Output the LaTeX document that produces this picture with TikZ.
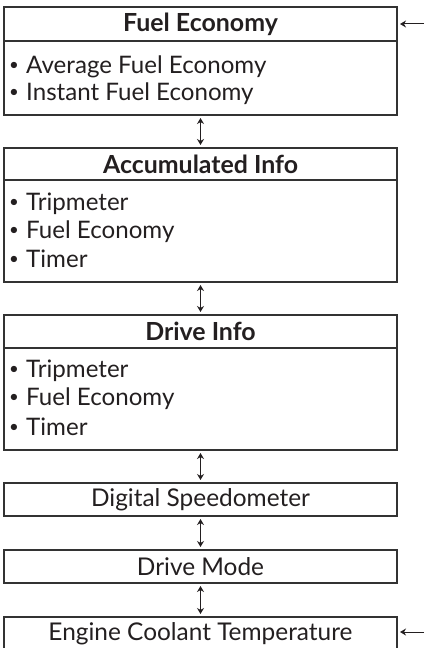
\documentclass[tikz,border=0pt]{standalone}
\usepackage{fontspec}
\setmainfont{Lato}
\usetikzlibrary{arrows.meta}
\definecolor{ink}{HTML}{231F20}
\definecolor{rule}{HTML}{333333}
\newcommand\bul{\raisebox{0.14em}{\scalebox{0.7}{•}}\hspace{0.3em}}
\begin{document}
\begin{tikzpicture}[x=1bp,y=-1bp,
  box/.style={draw=rule,line width=1.1bp,minimum width=393bp,inner sep=0pt,outer sep=0pt},
  head/.style={box,font=\fontsize{25}{28}\selectfont\bfseries,text=ink},
  plain/.style={box,font=\fontsize{24.5}{28}\selectfont,text=ink},
  item/.style={anchor=west,inner sep=0pt,font=\fontsize{24.2}{28}\selectfont,text=ink},
  link/.style={{Stealth[length=6bp,width=7bp]}-{Stealth[length=6bp,width=7bp]},line width=1bp,draw=ink,shorten <=3bp,shorten >=3bp},
  side/.style={-{Stealth[length=6bp,width=7bp]},line width=1bp,draw=ink,shorten >=3bp}]
\useasboundingbox (0,0) rectangle (424,648);
\clip (0,0) rectangle (424,648);
% Box 1
\node[head,minimum height=34bp] (h1) at (200.5,24) {Fuel Economy};
\node[box,minimum height=74bp] (b1) at (200.5,78) {};
\node[item] (i11) at (9,67) {\bul Average Fuel Economy};
\node[item] (i12) at (9,94) {\bul Instant Fuel Economy};
% Box 2
\node[head,minimum height=32bp] (h2) at (200.5,164) {Accumulated Info};
\node[box,minimum height=102bp] (b2) at (200.5,231) {};
\node[item] (i21) at (9,204) {\bul Tripmeter};
\node[item] (i22) at (9,232) {\bul Fuel Economy};
\node[item] (i23) at (9,259) {\bul Timer};
% Box 3
\node[head,minimum height=33bp] (h3) at (200.5,331.5) {Drive Info};
\node[box,minimum height=102bp] (b3) at (200.5,399) {};
\node[item] (i31) at (9,371) {\bul Tripmeter};
\node[item] (i32) at (9,399) {\bul Fuel Economy};
\node[item] (i33) at (9,427) {\bul Timer};
% Simple boxes
\node[plain,minimum height=33bp] (b4) at (200.5,499.5) {Digital Speedometer};
\node[plain,minimum height=33bp] (b5) at (200.5,566.5) {Drive Mode};
\node[plain,minimum height=33bp] (b6) at (200.5,633.5) {Engine Coolant Temperature};
% Connectors
\draw[link] (b1.south) -- (h2.north);
\draw[link] (b2.south) -- (h3.north);
\draw[link] (b3.south) -- (b4.north);
\draw[link] (b4.south) -- (b5.north);
\draw[link] (b5.south) -- (b6.north);
\coordinate (e1) at (424,24);
\coordinate (e6) at (424,632);
\draw[side] (e1) -- (h1.east);
\draw[side] (e6) -- (b6.east |- e6);
\end{tikzpicture}
\end{document}
